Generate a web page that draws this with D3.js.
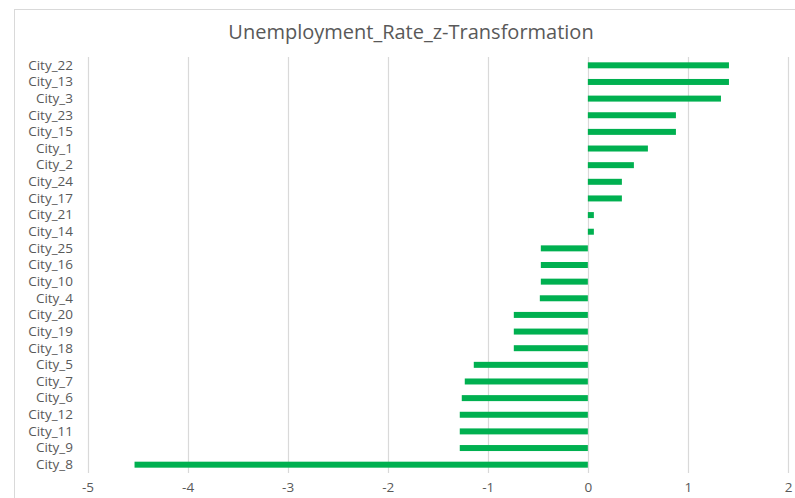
<!DOCTYPE html>
<html>
<head>
<meta charset="utf-8">
<script src="https://cdn.jsdelivr.net/npm/d3@7"></script>
<style>
  html, body { margin: 0; padding: 0; background: #fff; }
  svg { display: block; }
  text { font-family: "Open Sans", "Noto Sans", sans-serif; fill: #595959; }
</style>
</head>
<body>
<svg id="chart" width="795" height="498"></svg>
<script>
// Cities, top to bottom
const cities = [
  "City_22", "City_13", "City_3", "City_23", "City_15", "City_1", "City_2",
  "City_24", "City_17", "City_21", "City_14", "City_25", "City_16", "City_10",
  "City_4", "City_20", "City_19", "City_18", "City_5", "City_7", "City_6",
  "City_12", "City_11", "City_9", "City_8"
];
// z-scores of the unemployment rate
const zScores = [
  1.41, 1.41, 1.33, 0.88, 0.88, 0.60, 0.46,
  0.34, 0.34, 0.06, 0.06, -0.47, -0.47, -0.47,
  -0.48, -0.74, -0.74, -0.74, -1.14, -1.23, -1.26,
  -1.28, -1.28, -1.28, -4.53
];
const xTicks = [-5, -4, -3, -2, -1, 0, 1, 2];
const chartTitle = "Unemployment_Rate_z-Transformation";

const rows = cities.map((c, i) => ({ city: c, z: zScores[i] }));

const W = 795, H = 498;
const plot = { left: 87.5, right: 788, top: 57, bottom: 473 };
const labelFont = 13.5;

const svg = d3.select("#chart");

// chart area frame
svg.append("rect")
  .attr("x", 14.5).attr("y", 9.5)
  .attr("width", W + 10).attr("height", H + 10)
  .attr("fill", "#fff")
  .attr("stroke", "#d9d9d9").attr("stroke-width", 1);

const x = d3.scaleLinear().domain([-5, 2]).range([plot.left, plot.right]);
const y = d3.scaleBand().domain(cities).range([plot.top, plot.bottom])
  .paddingInner(0.64).paddingOuter(0.32);

// vertical gridlines
svg.append("g")
  .selectAll("line")
  .data(xTicks)
  .join("line")
  .attr("x1", d => Math.round(x(d)) + 0.5)
  .attr("x2", d => Math.round(x(d)) + 0.5)
  .attr("y1", plot.top).attr("y2", plot.bottom)
  .attr("stroke", "#d9d9d9").attr("stroke-width", 1.2);

// bars
svg.append("g")
  .selectAll("rect")
  .data(rows)
  .join("rect")
  .attr("x", d => x(Math.min(0, d.z)))
  .attr("width", d => Math.abs(x(d.z) - x(0)))
  .attr("y", d => y(d.city))
  .attr("height", y.bandwidth())
  .attr("fill", "#00b050");

// category labels
const yAxis = d3.axisLeft(y).tickSize(0).tickPadding(0);
const gy = svg.append("g")
  .attr("transform", `translate(${73},0)`)
  .call(yAxis);
gy.select(".domain").remove();
gy.selectAll("text")
  .attr("font-size", labelFont)
  .attr("fill", "#666666")
  .style("font-family", '"Open Sans", "Noto Sans", sans-serif');

// value axis labels
const xAxis = d3.axisBottom(x).tickValues(xTicks).tickSize(0).tickPadding(0)
  .tickFormat(d3.format("d"));
const gx = svg.append("g")
  .attr("transform", `translate(0,${482})`)
  .call(xAxis);
gx.select(".domain").remove();
gx.selectAll("text")
  .attr("font-size", labelFont)
  .attr("fill", "#666666")
  .style("font-family", '"Open Sans", "Noto Sans", sans-serif')
  .text(d => d < 0 ? "-" + Math.abs(d) : String(d));

// title
svg.append("text")
  .attr("x", 411).attr("y", 38.5)
  .attr("text-anchor", "middle")
  .attr("font-size", 20)
  .text(chartTitle);
</script>
</body>
</html>
